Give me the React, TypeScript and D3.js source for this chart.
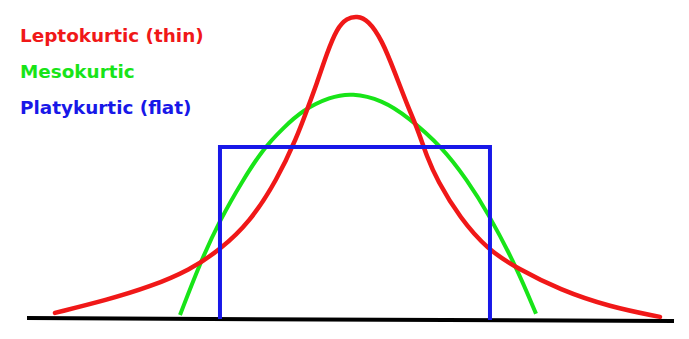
import React from "react";
import * as d3 from "d3";

// x in "spread units" (0 = centre), y as density relative to the leptokurtic peak
const leptoX = [-4.027, -3.333, -2.76, -2.227, -1.827, -1.427, -1.067, -0.8, -0.667, -0.533, -0.4, -0.267, -0.133, 0, 0.147, 0.333, 0.507, 0.68, 0.813, 0.933, 1.067, 1.373, 1.747, 2.133, 2.707, 3.373, 4.04];
const leptoY = [0.02, 0.063, 0.106, 0.162, 0.228, 0.32, 0.459, 0.601, 0.69, 0.779, 0.878, 0.96, 0.993, 1.0, 0.987, 0.921, 0.812, 0.7, 0.624, 0.535, 0.459, 0.333, 0.228, 0.168, 0.096, 0.04, 0.007];

const mesoX = [-2.36, -2.093, -1.827, -1.52, -1.253, -0.987, -0.72, -0.36, -0.067, 0.333, 0.68, 1.133, 1.467, 1.747, 2.133, 2.387];
const mesoY = [0.013, 0.185, 0.327, 0.459, 0.561, 0.63, 0.69, 0.733, 0.746, 0.723, 0.667, 0.568, 0.459, 0.35, 0.168, 0.017];

const platyX = [-1.827, -1.827, 1.773, 1.773];
const platyY = [0.0, 0.568, 0.568, -0.003];

const baseX = [-4.4, 4.227];
const baseY = [0.003, -0.007];

const legendLabels = ["Leptokurtic (thin)", "Mesokurtic", "Platykurtic (flat)"];
const legendColors = ["#f01818", "#18e418", "#1818e8"];

const W = 689;
const H = 339;

export default function App() {
  const x = d3.scaleLinear().domain([0, 1]).range([357, 432]);
  const y = d3.scaleLinear().domain([0, 1]).range([319, 16]);

  const smooth = d3
    .line<[number, number]>()
    .x((d) => x(d[0]))
    .y((d) => y(d[1]))
    .curve(d3.curveBasis);
  const straight = d3
    .line<[number, number]>()
    .x((d) => x(d[0]))
    .y((d) => y(d[1]));

  const zip = (a: number[], b: number[]) => a.map((v, i) => [v, b[i]] as [number, number]);

  return (
    <svg
      width={W}
      height={H}
      style={{ position: "absolute", left: 0, top: 0, background: "#fff" }}
    >
      <path d={straight(zip(baseX, baseY)) || ""} stroke="#000" strokeWidth={4} fill="none" />
      <path d={smooth(zip(mesoX, mesoY)) || ""} stroke={legendColors[1]} strokeWidth={4} fill="none" />
      <path d={smooth(zip(leptoX, leptoY)) || ""} stroke={legendColors[0]} strokeWidth={4.5} fill="none" strokeLinecap="round" />
      <path d={straight(zip(platyX, platyY)) || ""} stroke={legendColors[2]} strokeWidth={4} fill="none" strokeLinejoin="miter" />
      {legendLabels.map((t, i) => (
        <text
          key={t}
          x={20}
          y={41.5 + i * 36}
          fill={legendColors[i]}
          fontFamily="DejaVu Sans, Verdana, sans-serif"
          fontWeight="bold"
          fontSize={18.4}
        >
          {t}
        </text>
      ))}
    </svg>
  );
}
